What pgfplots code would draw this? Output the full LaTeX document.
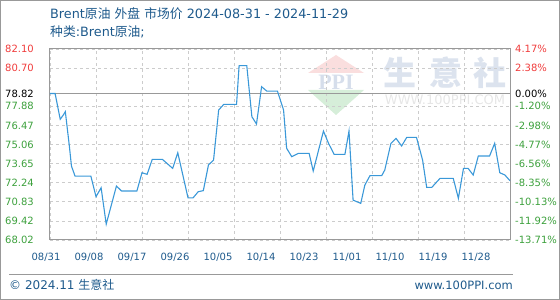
\documentclass[border=0pt]{standalone}
\usepackage{pgfplots}
\pgfplotsset{compat=1.18}
\usepackage{fontspec}
\setmainfont{DejaVu Sans}
\newfontfamily\cjk{Noto Sans CJK SC}
\newfontfamily\lserif{Liberation Serif}
\definecolor{tblue}{HTML}{1E5A8C}
\definecolor{lblue}{HTML}{3A98D8}
\definecolor{upred}{HTML}{F03C3C}
\definecolor{dngreen}{HTML}{3CA03C}
\definecolor{frame}{HTML}{999999}
\definecolor{gridc}{HTML}{CCCCCC}
\begin{document}
\begin{tikzpicture}[x=1pt,y=1pt]
\path[use as bounding box] (0,0) rectangle (560,300);
\draw[frame, line width=1pt] (0.5,0.5) rectangle (559.5,299.5);
% titles
\node[anchor=west, inner sep=0, text=tblue, font=\fontsize{12.8}{15}\selectfont] at (50,286) {Brent{\cjk 原油} {\cjk 外盘} {\cjk 市场价} 2024-08-31 - 2024-11-29};
\node[anchor=west, inner sep=0, text=tblue, font=\fontsize{12.8}{15}\selectfont] at (50,268) {{\cjk 种类}:Brent{\cjk 原油};};
% watermark
\fill[fill={rgb,255:red,250;green,222;blue,222}] (336,245) -- (364,227) -- (308,227) -- cycle;
\fill[fill={rgb,255:red,214;green,238;blue,217}] (308,210) -- (364,210) -- (336,185) -- cycle;
\node[text={rgb,255:red,214;green,222;blue,235}, font=\lserif\bfseries\fontsize{22}{22}\selectfont, inner sep=0] at (336,218) {PPI};
\foreach \c/\xx in {生/400,意/446,社/490}{
  \node[text={rgb,255:red,220;green,227;blue,238}, font=\cjk\bfseries\fontsize{33}{33}\selectfont, inner sep=0] at (\xx,227) {\c};
}
\node[text={rgb,255:red,230;green,230;blue,230}, font=\fontsize{13}{13}\selectfont, inner sep=0] at (445,200) {WWW.100PPI.COM};
% main axis
\begin{axis}[
  at={(50pt,60pt)}, anchor=south west,
  width=460pt, height=191pt, scale only axis,
  xmin=0, xmax=90, ymin=68.02, ymax=82.10,
  xtick={0,9,...,90}, xticklabels={,,,,,,,,,,},
  ytick={68.02,69.42,70.83,72.24,73.65,75.06,76.47,77.88,80.70,82.10},
  yticklabels={\textcolor{dngreen}{68.02},\textcolor{dngreen}{69.42},\textcolor{dngreen}{70.83},\textcolor{dngreen}{72.24},\textcolor{dngreen}{73.65},\textcolor{dngreen}{75.06},\textcolor{dngreen}{76.47},\textcolor{dngreen}{77.88},\textcolor{upred}{80.70},\textcolor{upred}{82.10}},
  extra y ticks={78.82},
  extra y tick labels={\textcolor{black}{78.82}},
  extra y tick style={grid style={solid, frame, line width=1pt}},
  grid=major,
  grid style={gridc, line width=0.8pt, dash pattern=on 3pt off 3pt},
  major tick length=0pt,
  axis line style={frame, line width=1pt},
  yticklabel style={font=\fontsize{10}{12}\selectfont, anchor=east, inner sep=0pt, xshift=-16pt},
  clip=false,
]
\addplot[lblue, line width=1.1pt] coordinates {
(0,78.82)(1,78.82)(2,76.92)(2.6,77.23)(3,77.48)(3.8,74.9)(4.2,73.47)(4.9,72.73)(8,72.73)
(9,71.21)(10,71.87)(11,69.19)(13,72.0)(14,71.63)(17,71.63)(18,72.98)(19,72.86)(20,73.96)
(22,73.96)(24,73.30)(25,74.45)(27,71.13)(28,71.13)(29,71.58)(30,71.66)(31,73.55)(32,73.91)
(33,77.6)(34,78.02)(36.5,78.02)(37,80.87)(38.5,80.87)(39.5,77.11)(40.4,76.57)(41.4,79.32)
(42.4,79.0)(44.5,79.0)(45.7,77.6)(46.3,74.78)(47.3,74.16)(48.6,74.41)(50.7,74.41)(51.5,73.1)
(53.5,76.05)(54.5,75.14)(55.6,74.33)(57.7,74.33)(58.5,76.05)(59.3,70.96)(60.8,70.72)
(61.6,72.07)(62.6,72.76)(64.9,72.76)(65.5,73.18)(66.7,75.14)(67.7,75.51)(68.8,74.95)
(69.8,75.59)(71.7,75.59)(72.9,73.91)(73.7,71.9)(74.7,71.9)(76.3,72.56)(78.9,72.56)
(79.9,71.09)(80.9,73.30)(81.8,73.30)(82.8,72.81)(83.8,74.21)(86,74.21)(87,75.14)
(88,72.98)(89,72.81)(90,72.39)
};
\end{axis}
% right axis labels
\begin{axis}[
  at={(50pt,60pt)}, anchor=south west,
  width=460pt, height=191pt, scale only axis,
  xmin=0, xmax=90, ymin=68.02, ymax=82.10,
  axis x line=none, axis y line*=right,
  y axis line style={draw=none},
  major tick length=0pt,
  ytick={68.02,69.42,70.83,72.24,73.65,75.06,76.47,77.88,78.82,80.70,82.10},
  yticklabels={\textcolor{dngreen}{-13.71\%},\textcolor{dngreen}{-11.92\%},\textcolor{dngreen}{-10.13\%},\textcolor{dngreen}{-8.35\%},\textcolor{dngreen}{-6.56\%},\textcolor{dngreen}{-4.77\%},\textcolor{dngreen}{-2.98\%},\textcolor{dngreen}{-1.20\%},\textcolor{black}{0.00\%},\textcolor{upred}{2.38\%},\textcolor{upred}{4.17\%}},
  yticklabel style={font=\fontsize{10}{12}\selectfont, anchor=west, inner sep=0pt, xshift=5pt},
]
\end{axis}
% x labels
\foreach \lab [count=\k from 0] in {08/31,09/08,09/17,09/26,10/05,10/14,10/23,11/01,11/10,11/19,11/28}{
  \node[text=tblue, font=\fontsize{10}{12}\selectfont, inner sep=0] at ({46+43*\k},43) {\lab};
}
% footer
\draw[frame, line width=1pt] (9,25) -- (513,25);
\node[anchor=west, inner sep=0, text=tblue, font=\fontsize{12}{14}\selectfont] at (9,15) {© 2024.11 {\cjk 生意社}};
\node[anchor=east, inner sep=0, text=tblue, font=\fontsize{11.5}{14}\selectfont] at (513,15) {www.100PPI.com};
\end{tikzpicture}
\end{document}
